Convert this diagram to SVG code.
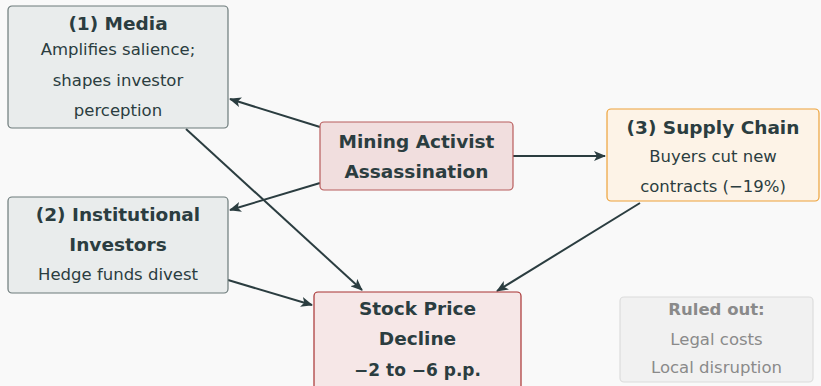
<svg xmlns="http://www.w3.org/2000/svg" width="821" height="386" viewBox="0 0 821 386">
<defs>
<marker id="ah" viewBox="0 0 12 10" refX="11" refY="5" markerWidth="12" markerHeight="10" markerUnits="userSpaceOnUse" orient="auto">
<path d="M0,0 L12,5 L0,10 L3,5 Z" fill="#2b3d40"/>
</marker>
<style>
text{font-family:"DejaVu Sans","Liberation Sans",Arial,sans-serif;fill:#2b3d40;text-anchor:middle}
.t{font-weight:bold;font-size:18.5px}
.b{font-size:16.5px}
.g rect{fill:#e9ecec;stroke:#6c7a7a;stroke-width:1.2}
.c line{stroke:#2b3d40;stroke-width:2;marker-end:url(#ah)}
</style>
</defs>
<rect width="821" height="386" fill="#f9f9f9"/>
<g class="c" id="connectors">
<line x1="320" y1="127" x2="230" y2="99"/>
<line x1="320" y1="183" x2="230" y2="210"/>
<line x1="513" y1="156" x2="605" y2="156"/>
<line x1="186" y1="129" x2="362" y2="290"/>
<line x1="228" y1="280" x2="312" y2="305"/>
<line x1="640" y1="203" x2="497" y2="291"/>
</g>
<g id="media" class="g">
<rect x="8" y="6" width="220" height="122" rx="4"/>
<text class="t" x="118" y="30">(1) Media</text>
<text class="b" x="118" y="55">Amplifies salience;</text>
<text class="b" x="118" y="86">shapes investor</text>
<text class="b" x="118" y="116">perception</text>
</g>
<g id="institutional" class="g">
<rect x="8" y="197" width="220" height="96" rx="4"/>
<text class="t" x="118" y="221">(2) Institutional</text>
<text class="t" x="118" y="251">Investors</text>
<text class="b" x="118" y="280">Hedge funds divest</text>
</g>
<g id="mining">
<rect x="320" y="122" width="193" height="68" rx="4" fill="#f1dede" stroke="#b85c5c" stroke-width="1.2"/>
<text class="t" x="416.5" y="148">Mining Activist</text>
<text class="t" x="416.5" y="178">Assassination</text>
</g>
<g id="supply">
<rect x="607" y="109" width="212" height="92" rx="4" fill="#fdf3e7" stroke="#eda23a" stroke-width="1.2"/>
<text class="t" x="713" y="134">(3) Supply Chain</text>
<text class="b" x="713" y="162">Buyers cut new</text>
<text class="b" x="713" y="192">contracts (−19%)</text>
</g>
<g id="stock">
<rect x="314" y="292" width="207" height="100" rx="4" fill="#f6e7e7" stroke="#a83232" stroke-width="1.2"/>
<text class="t" x="417.5" y="315">Stock Price</text>
<text class="t" x="417.5" y="345">Decline</text>
<text class="t" x="417.5" y="376" style="font-size:17px">−2 to −6 p.p.</text>
</g>
<g id="ruled-out">
<rect x="620" y="297" width="193" height="85" rx="4" fill="#f1f1f1" stroke="#dcdcdc" stroke-width="1.2"/>
<text x="716.5" y="315" style="font-weight:bold;font-size:16.5px;fill:#8a8a8a">Ruled out:</text>
<text class="b" x="716.5" y="345" style="fill:#8a8a8a">Legal costs</text>
<text class="b" x="716.5" y="373" style="fill:#8a8a8a">Local disruption</text>
</g>
</svg>
